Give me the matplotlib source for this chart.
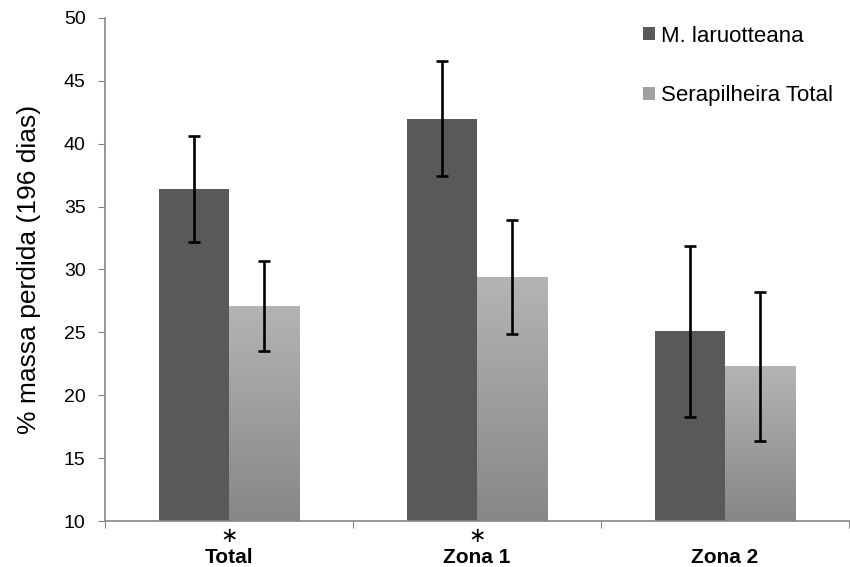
import numpy as np
import matplotlib.pyplot as plt
from matplotlib.colors import LinearSegmentedColormap
from matplotlib.transforms import blended_transform_factory

plt.rcParams['font.family'] = ['Liberation Sans', 'DejaVu Sans']

# data
categories = ['Total', 'Zona 1', 'Zona 2']
significant = [True, True, False]
laruotteana = [36.4, 42.0, 25.1]
laruotteana_err = [4.2, 4.6, 6.8]
serapilheira = [27.1, 29.4, 22.3]
serapilheira_err = [3.6, 4.5, 5.9]
series_names = ['M. laruotteana', 'Serapilheira Total']

fig = plt.figure(figsize=(8.5, 5.67), dpi=100)
ax = fig.add_axes([0.1235, 0.0811, 0.8755, 0.8872])

x = np.arange(len(categories))
w = 0.283
ax.set_xlim(-0.5, len(categories) - 0.5)
ax.set_ylim(10, 50)

dark = ax.bar(x - w / 2, laruotteana, w, color='#595959', zorder=2)
light = ax.bar(x + w / 2, serapilheira, w, color='#acacac', zorder=2)

# vertical gradient on the light bars
grad = np.linspace(0, 1, 256).reshape(-1, 1)
cmap = LinearSegmentedColormap.from_list('g', ['#878787', '#b4b4b4'])
for b in light:
    x0 = b.get_x()
    im = ax.imshow(grad, cmap=cmap, aspect='auto', origin='lower',
                   extent=[x0, x0 + b.get_width(), 10, b.get_height()],
                   zorder=2.1)
    im.set_clip_path(b)

ax.errorbar(x - w / 2, laruotteana, yerr=laruotteana_err, fmt='none',
            ecolor='black', elinewidth=1.9, capsize=4.5, capthick=1.9, zorder=3)
ax.errorbar(x + w / 2, serapilheira, yerr=serapilheira_err, fmt='none',
            ecolor='black', elinewidth=1.9, capsize=4.5, capthick=1.9, zorder=3)

for s in ['top', 'right']:
    ax.spines[s].set_visible(False)
for s in ['left', 'bottom']:
    ax.spines[s].set_color('#868686')
    ax.spines[s].set_linewidth(1.2)

ax.set_yticks(np.arange(10, 51, 5))
ax.tick_params(axis='y', direction='out', length=5, color='#868686',
               labelsize=14, pad=9)
ax.set_xticks(np.arange(-0.5, len(categories)))
ax.set_xticklabels([])
ax.tick_params(axis='x', direction='out', length=5, color='#868686')

trans = blended_transform_factory(ax.transData, ax.transAxes)
for i, cat in enumerate(categories):
    ax.text(i, -0.072, cat, transform=trans, ha='center', va='center',
            fontsize=15, fontweight='bold')
    if significant[i]:
        ax.text(i, -0.029, '\u2217', transform=trans, ha='center',
                va='center', fontsize=15, family=['DejaVu Sans'])

ax.set_ylabel('% massa perdida (196 dias)', fontsize=19, labelpad=16)

leg = ax.legend([dark, light], series_names, loc='upper left',
                bbox_to_anchor=(0.723, 0.985), frameon=False, fontsize=16,
                handlelength=0.55, handleheight=0.55, handletextpad=0.25,
                labelspacing=1.75, borderpad=0, borderaxespad=0)
leg.legend_handles[1].set_facecolor('#a0a0a0')

fig.savefig('out.png', dpi=100)
